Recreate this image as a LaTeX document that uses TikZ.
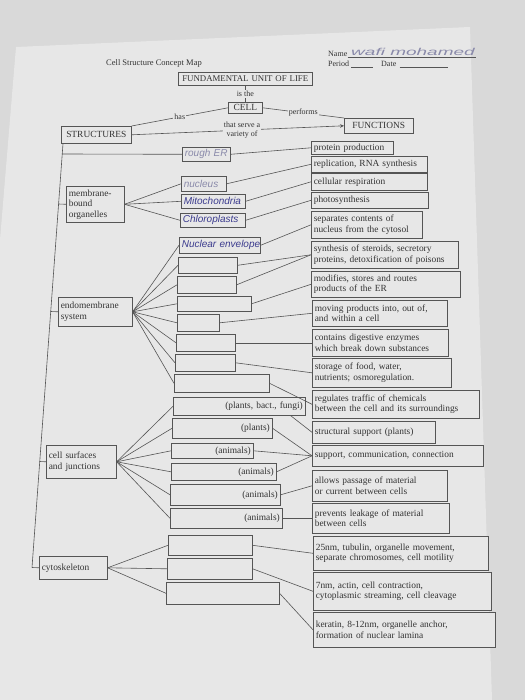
\documentclass[tikz,border=0pt]{standalone}
\usepackage{fontspec}
\setmainfont{Liberation Serif}
\newfontfamily\handfont{Liberation Sans}
\usetikzlibrary{arrows.meta}

\definecolor{desk}{HTML}{D9D9D9}
\definecolor{paper}{HTML}{E7E7E7}
\definecolor{ink}{HTML}{333333}
\definecolor{rule}{HTML}{555555}
\definecolor{pen}{HTML}{3B3B8E}
\definecolor{pencil}{HTML}{8A8AAA}

\newcommand{\mapfont}{\fontsize{9.4}{10.5}\selectfont}

\tikzset{
  link/.style={draw=rule, line width=0.6pt},
  box/.style={draw=rule, line width=0.6pt, fill=paper, anchor=north west,
    inner xsep=2.5pt, inner ysep=0pt, text=ink, font=\mapfont,
    align=left, text width=#1},
  rbox/.style={box=#1, align=right},
  cbox/.style={box=#1, align=center},
  word/.style={fill=paper, inner sep=1pt, text=ink, font=\fontsize{8}{9}\selectfont},
  hand/.style={text=pen, font=\handfont\itshape\fontsize{10}{11}\selectfont},
  faint/.style={hand, text=pencil},
}

\begin{document}
\begin{tikzpicture}[x=1pt, y=-1pt, >={Stealth[length=4pt,width=3.5pt]}]
    \useasboundingbox (0,0) rectangle (525,700);
    \fill[desk] (0,0) rectangle (525,700);
    \fill[paper] (16,47) -- (470,27) -- (492,700) -- (0,700) -- (0,240) -- cycle;

    % heading
    \node[text=ink, font=\fontsize{8.5}{10}\selectfont] (title) at (154,63) {Cell Structure Concept Map};
    \node[anchor=base west, text=ink, font=\fontsize{8}{9}\selectfont, inner sep=0pt] (name) at (328,57) {Name};
    \node[anchor=base west, text=ink, font=\fontsize{8}{9}\selectfont, inner sep=0pt] (period) at (328,67) {Period};
    \node[anchor=base west, text=ink, font=\fontsize{8}{9}\selectfont, inner sep=0pt] (date) at (381,67) {Date};
    \draw[link, line width=0.4pt] (name.base east) -- ++(128,0);
    \draw[link, line width=0.4pt] ([xshift=2pt]period.base east) -- ++(22,0);
    \draw[link, line width=0.4pt] ([xshift=3pt]date.base east) -- ++(48,0);
    \node[faint, font=\handfont\itshape\fontsize{10}{11}\selectfont] (writer) at (413,52) {\scalebox{1.9}[1]{wafi mohamed}};

    % top of the map
    \node[cbox=129pt, minimum height=13pt, font=\fontsize{8.8}{10}\selectfont] (unit) at (178,72) {FUNDAMENTAL UNIT OF LIFE};
    \node[cbox=29pt, minimum height=11pt] (cell) at (228,102) {CELL};
    \node[cbox=65pt, minimum height=17pt] (structures) at (61,126) {STRUCTURES};
    \node[cbox=64pt, minimum height=15pt] (functions) at (344,118) {FUNCTIONS};

    \draw[link] (unit) -- node[word] {is the} (cell);
    \draw[link] (structures.north east) -- node[word] {has} (cell.west);
    \draw[link] (cell.east) -- node[word] {performs} (functions.north west);
    \draw[link, ->] (structures.east) -- node[word, pos=0.52, align=center, font=\fontsize{8}{8.5}\selectfont] {that serve a\\variety of} (functions.west);

    % kinds of structures
    \node[box=53pt, minimum height=36pt] (mb) at (66,186) {membrane-\\bound\\organelles};
    \node[box=69pt, minimum height=29pt] (endo) at (58,297) {endomembrane\\system};
    \node[box=65pt, minimum height=33pt] (surf) at (46,445) {cell surfaces\\and junctions};
    \node[box=63pt, minimum height=23pt] (cyto) at (39,556) {cytoskeleton};

    % the parts
    \node[box=43pt, minimum height=14pt, faint] (m1) at (182,147) {\mbox{rough ER}};
    \node[box=40pt, minimum height=15pt, faint] (m2) at (181,176) {nucleus};
    \node[box=59pt, minimum height=14pt, hand] (m3) at (181,194) {\mbox{Mitochondria}};
    \node[box=60pt, minimum height=14pt, hand] (m4) at (180,213) {\mbox{Chloroplasts}};
    \node[box=76pt, minimum height=16pt, hand] (m5) at (179,237) {\mbox{Nuclear envelope}};
    \node[box=54pt, minimum height=16pt] (m6) at (178,257) {};
    \node[box=54pt, minimum height=17pt] (m7) at (177,276) {};
    \node[box=69pt, minimum height=15pt] (m8) at (177,296) {};
    \node[box=37pt, minimum height=17pt] (m9) at (177,314) {};
    \node[box=54pt, minimum height=17pt] (m10) at (176,334) {};
    \node[box=55pt, minimum height=17pt] (m11) at (175,354) {};
    \node[box=90pt, minimum height=18pt] (m12) at (174,374) {};
    \node[rbox=127pt, minimum height=18pt] (m13) at (173,397) {(plants, bact., fungi)};
    \node[rbox=95pt, minimum height=20pt] (m14) at (172,418) {(plants)};
    \node[rbox=77pt, minimum height=15pt] (m15) at (171,443) {(animals)};
    \node[rbox=100pt, minimum height=17pt] (m16) at (171,463) {(animals)};
    \node[rbox=105pt, minimum height=21pt] (m17) at (170,484) {(animals)};
    \node[rbox=107pt, minimum height=20pt] (m18) at (170,508) {(animals)};
    \node[box=79pt, minimum height=20pt] (m19) at (168,535) {};
    \node[box=80pt, minimum height=21pt] (m20) at (167,558) {};
    \node[box=108pt, minimum height=22pt] (m21) at (166,582) {};

    % what they do
    \node[box=77pt, minimum height=13pt] (f1) at (311,141) {protein production};
    \node[box=111pt, minimum height=16pt] (f2) at (311,156) {replication, RNA synthesis};
    \node[box=111pt, minimum height=17pt] (f3) at (311,173) {cellular respiration};
    \node[box=112pt, minimum height=16pt] (f4) at (311,192) {photosynthesis};
    \node[box=106pt, minimum height=27pt] (f5) at (311,211) {separates contents of\\nucleus from the cytosol};
    \node[box=142pt, minimum height=27pt] (f6) at (311,241) {synthesis of steroids, secretory\\proteins, detoxification of poisons};
    \node[box=144pt, minimum height=26pt] (f7) at (311,271) {modifies, stores and routes\\products of the ER};
    \node[box=130pt, minimum height=26pt] (f8) at (312,300) {moving products into, out of,\\and within a cell};
    \node[box=131pt, minimum height=27pt] (f9) at (312,329) {contains digestive enzymes\\which break down substances};
    \node[box=134pt, minimum height=29pt] (f10) at (312,358) {storage of food, water,\\nutrients; osmoregulation.};
    \node[box=162pt, minimum height=28pt] (f11) at (312,390) {regulates traffic of chemicals\\between the cell and its surroundings};
    \node[box=118pt, minimum height=22pt] (f12) at (312,421) {structural support (plants)};
    \node[box=166pt, minimum height=21pt] (f13) at (312,445) {support, communication, connection};
    \node[box=130pt, minimum height=31pt] (f14) at (312,470) {allows passage of material\\or current between cells};
    \node[box=132pt, minimum height=30pt] (f15) at (312,503) {prevents leakage of material\\between cells};
    \node[box=170pt, minimum height=34pt] (f16) at (313,536) {25nm, tubulin, organelle movement,\\separate chromosomes, cell motility};
    \node[box=173pt, minimum height=38pt] (f17) at (313,572) {7nm, actin, cell contraction,\\cytoplasmic streaming, cell cleavage};
    \node[box=177pt, minimum height=35pt] (f18) at (313,612) {keratin, 8-12nm, organelle anchor,\\formation of nuclear lamina};

    % spine down the left side
    \coordinate (spinetop) at ([xshift=2pt]structures.south west);
    \coordinate (spinebot) at (32,567.5);
    \coordinate (b1) at (62.2,154);
    \coordinate (b2) at (58.5,204);
    \coordinate (b3) at (50.7,311.5);
    \coordinate (b4) at (39.7,461.5);
    \draw[link] (spinetop) -- (spinebot);
    \draw[link] (b1) -- (m1.west);
    \draw[link] (b2) -- (mb.west);
    \draw[link] (b3) -- (endo.west);
    \draw[link] (b4) -- (surf.west);
    \draw[link] (spinebot) -- (cyto.west);

    % fans
    \foreach \i in {2,3,4}
        \draw[link] (mb.east) -- (m\i.west);
    \foreach \i in {5,...,12}
        \draw[link] (endo.east) -- (m\i.west);
    \foreach \i in {13,...,18}
        \draw[link] (surf.east) -- (m\i.west);
    \foreach \i in {19,20,21}
        \draw[link] (cyto.east) -- (m\i.west);

    % parts to functions
    \foreach \m/\f in {m1/f1, m2/f2, m3/f3, m4/f4, m5/f5, m6/f6, m7/f6, m8/f7, m9/f8,
                       m10/f9, m11/f10, m12/f11, m14/f13, m15/f13, m16/f13, m17/f14,
                       m18/f15, m19/f16, m20/f17, m21/f18}
        \draw[link] (\m.east) -- (\f.west);
    \draw[link] ([xshift=-15pt]m13.south east) -- (f12.west);
\end{tikzpicture}
\end{document}
